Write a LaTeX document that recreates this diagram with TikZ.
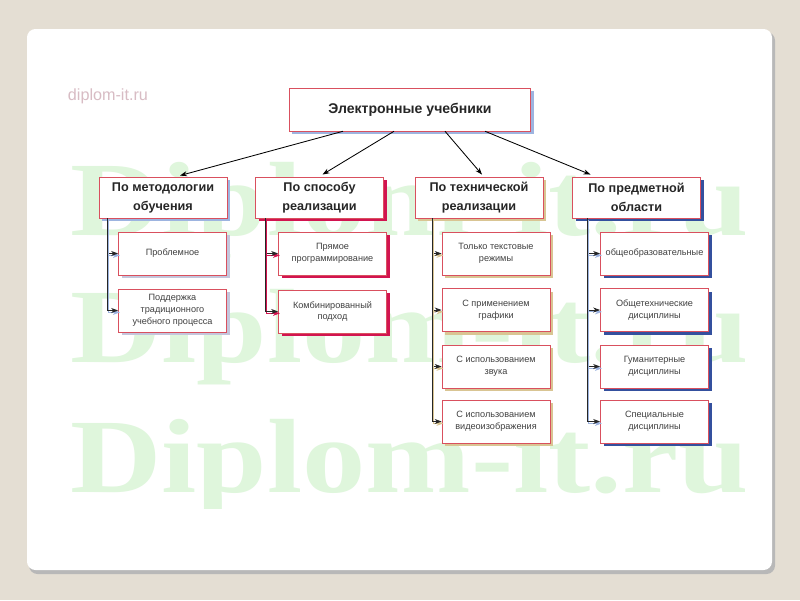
\documentclass[tikz,border=0pt]{standalone}
\usepackage{fontspec}
\setmainfont{Liberation Sans}
\newfontfamily\wmfont{Liberation Serif}
\usetikzlibrary{shadows,calc,arrows.meta}
\definecolor{bg}{HTML}{E4DED3}
\definecolor{edgered}{HTML}{D9505E}
\definecolor{shblue}{HTML}{9DB4E0}
\definecolor{shgrey}{HTML}{C4C6DC}
\definecolor{shred}{HTML}{D21450}
\definecolor{shtan}{HTML}{D9C593}
\definecolor{shnavy}{HTML}{34509E}
\definecolor{wmgreen}{HTML}{DFF6DC}
\definecolor{sitepink}{HTML}{D8BCC4}
\begin{document}
\begin{tikzpicture}[x=0.025cm, y=-0.025cm, >={Stealth[length=5pt,width=3.6pt]},
  box/.style={draw=edgered, line width=0.5pt, fill=white, align=center, inner sep=1pt,
    general shadow={fill=#1, shadow xshift=2.2pt, shadow yshift=-2.2pt}},
  headbox/.style={box=#1, minimum width=6.03cm, minimum height=1.07cm,
    font=\bfseries\fontsize{10}{12}\selectfont, text=black!85},
  catbox/.style={box=#1, minimum width=3.2cm, minimum height=1.03cm,
    font=\bfseries\fontsize{9}{13.5}\selectfont, text=black!85},
  subbox/.style={box=#1, minimum width=2.7cm, minimum height=1.07cm,
    font=\fontsize{6.5}{8.5}\selectfont, text=black!75},
  conn/.style={->, black!85, line width=0.6pt,
    preaction={draw=#1, line width=0.7pt, transform canvas={shift={(1.3pt,-1.3pt)}}}},
]
% page and card
\fill[bg] (0,0) rectangle (800,600);
\fill[black!28, rounded corners=6pt] (29,32) rectangle (775,574);
\fill[white, rounded corners=6pt] (27,29) rectangle (772,570);
\node[anchor=west, text=sitepink, font=\fontsize{11.5}{13}\selectfont] (site) at (63,96) {diplom-it.ru};

% watermark
\begin{scope}
  \clip (62,140) rectangle (752,508);
  \foreach \yy/\nm in {235/wa, 362/wb, 492/wc}
    \node[anchor=base west, inner sep=0pt, text=wmgreen, font=\wmfont\bfseries\fontsize{75}{80}\selectfont]
      (\nm) at (70,\yy) {\scalebox{1.2}[1]{Diplom-it.ru}};
\end{scope}

% top
\node[headbox=shblue] (book) at (410,109.5) {Электронные учебники};

% categories
\node[catbox=shblue] (met) at (163,197.5) {По методологии\\обучения};
\node[catbox=shred] (way) at (319.5,197.5) {По способу\\реализации};
\node[catbox=shtan] (tech) at (479,197.5) {По технической\\реализации};
\node[catbox=shnavy] (subj) at (636.5,197.5) {По предметной\\области};

\draw[->, line width=0.6pt] ($(book.south)+(-67,0)$) -- ($(met.north)+(17,-1)$);
\draw[->, line width=0.6pt] ($(book.south)+(-16,0)$) -- ($(way.north)+(3,-2)$);
\draw[->, line width=0.6pt] ($(book.south)+(35,0)$) -- ($(tech.north)+(3,-2)$);
\draw[->, line width=0.6pt] ($(book.south)+(75,0)$) -- ($(subj.north)+(-46,-2)$);

% methodology
\node[subbox=shgrey] (met1) at (172.5,253.5) {Проблемное};
\node[subbox=shgrey] (met2) at (172.5,310.5) {Поддержка\\традиционного\\учебного процесса};
\coordinate (mt) at (107,218);
\foreach \s in {met1,met2}
  \draw[conn=shblue] (mt) |- (\s.west);

% realisation
\node[subbox=shred] (way1) at (332.5,253.5) {Прямое\\программирование};
\node[subbox=shred] (way2) at (332.5,311.5) {Комбинированный\\подход};
\coordinate (wt) at (265,218);
\foreach \s in {way1,way2}
  \draw[conn=shred] (wt) |- (\s.west);

% technical
\node[subbox=shtan] (tech1) at (496,253.5) {Только текстовые\\режимы};
\node[subbox=shtan] (tech2) at (496,310) {С применением\\графики};
\node[subbox=shtan] (tech3) at (496,366.5) {С использованием\\звука};
\node[subbox=shtan] (tech4) at (496,421.5) {С использованием\\видеоизображения};
\coordinate (tt) at (432,218);
\foreach \s in {tech1,tech2,tech3,tech4}
  \draw[conn=shtan] (tt) |- (\s.west);

% subject
\node[subbox=shnavy] (subj1) at (654.5,253.5) {общеобразовательные};
\node[subbox=shnavy] (subj2) at (654.5,310) {Общетехнические\\дисциплины};
\node[subbox=shnavy] (subj3) at (654.5,366.5) {Гуманитерные\\дисциплины};
\node[subbox=shnavy] (subj4) at (654.5,421.5) {Специальные\\дисциплины};
\coordinate (st) at (587,218);
\foreach \s in {subj1,subj2,subj3,subj4}
  \draw[conn=shblue] (st) |- (\s.west);
\end{tikzpicture}
\end{document}
